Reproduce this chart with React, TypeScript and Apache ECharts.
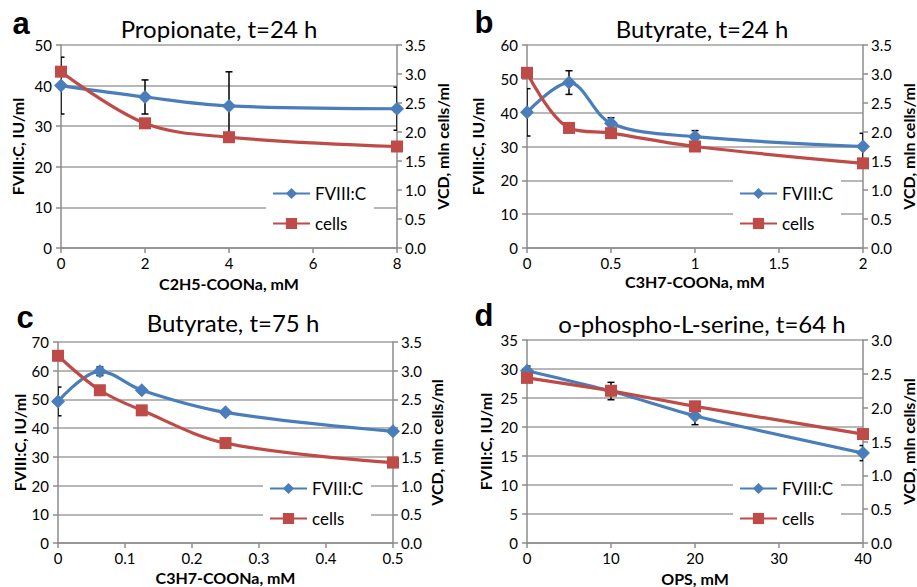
import React, { useEffect, useRef } from "react";
import * as echarts from "echarts";

// ---- Data ----
// a: Propionate, t=24 h
const aX = [0, 2, 4, 8];
const aFVIII = [40, 37.2, 35, 34.3];
const aFVIIIErr = [7, 4.2, 8.4, 5.3];
const aCells = [3.04, 2.15, 1.91, 1.75];

// b: Butyrate, t=24 h
const bX = [0, 0.25, 0.5, 1, 2];
const bFVIII = [40.1, 48.9, 36.9, 32.9, 30];
const bFVIIIErr = [7, 3.5, 1.6, 1.8, 3.9];
const bCells = [3.02, 2.07, 1.98, 1.75, 1.46];

// c: Butyrate, t=75 h
const cX = [0, 0.0625, 0.125, 0.25, 0.5];
const cFVIII = [49.3, 59.8, 53.2, 45.5, 38.9];
const cFVIIIErr = [5, 1.5, 0.8, 0.8, 0.8];
const cCells = [3.26, 2.66, 2.31, 1.74, 1.4];

// d: o-phospho-L-serine, t=64 h
const dX = [0, 10, 20, 40];
const dFVIII = [29.7, 26.2, 21.9, 15.5];
const dFVIIIErr = [0.8, 1.5, 1.5, 1.3];
const dCells = [2.44, 2.25, 2.02, 1.61];

const titles = ["Propionate, t=24 h", "Butyrate, t=24 h", "Butyrate, t=75 h", "o-phospho-L-serine, t=64 h"];
const letters = ["a", "b", "c", "d"];
const xNames = ["C2H5-COONa, mM", "C3H7-COONa, mM", "C3H7-COONa, mM", "OPS, mM"];
const leftName = "FVIII:C, IU/ml";
const rightName = "VCD, mln cells/ml";
const seriesNames = ["FVIII:C", "cells"];

// axis ranges
const xRanges = [
  [0, 8, 2],
  [0, 2, 0.5],
  [0, 0.5, 0.1],
  [0, 40, 10],
];
const leftRanges = [
  [0, 50, 10],
  [0, 60, 10],
  [0, 70, 10],
  [0, 35, 5],
];
const rightRanges = [
  [0, 3.5, 0.5],
  [0, 3.5, 0.5],
  [0, 3.5, 0.5],
  [0, 3, 0.5],
];

const panels = [
  { x: aX, f: aFVIII, fe: aFVIIIErr, c: aCells },
  { x: bX, f: bFVIII, fe: bFVIIIErr, c: bCells },
  { x: cX, f: cFVIII, fe: cFVIIIErr, c: cCells },
  { x: dX, f: dFVIII, fe: dFVIIIErr, c: dCells },
];

// ---- Layout ----
const grids = [
  { left: 61, top: 45, width: 336, height: 203 },
  { left: 527, top: 45, width: 336, height: 203 },
  { left: 58, top: 342, width: 335, height: 201 },
  { left: 527, top: 340, width: 336, height: 203 },
];
const leftGaps = [36, 42, 30, 34];
const rightGaps = [37, 37, 35, 37];
const xGaps = [27, 25, 26, 27];
const titlePos = [
  [219, 28],
  [702, 28],
  [233, 322],
  [702, 323],
];
const letterPos = [
  [21, 23],
  [484, 22],
  [25, 317],
  [484, 315],
];
const legendPos = [
  [266, 179],
  [733, 179],
  [263, 474],
  [733, 474],
];

const BLUE = "#4a7ebb";
const RED = "#be4b48";
const GRID = "#a0a0a0";
const AXIS = "#8c8c8c";
const FONT = "Lato, 'Open Sans', sans-serif";

export default function App() {
  const ref = useRef<HTMLDivElement>(null);
  useEffect(() => {
    document.body.style.margin = "0";
    if (!ref.current) return;
    const chart = echarts.init(ref.current, undefined, { renderer: "svg" });

    const xAxis: any[] = [];
    const yAxis: any[] = [];
    const series: any[] = [];
    const legend: any[] = [];
    const graphic: any[] = [];

    const nameStyle = { fontFamily: FONT, fontWeight: "bold", fontSize: 16, color: "#000" };
    const labelStyle = { fontFamily: FONT, fontSize: 15, color: "#000" };

    panels.forEach((p, i) => {
      xAxis.push({
        type: "value",
        gridIndex: i,
        min: xRanges[i][0],
        max: xRanges[i][1],
        interval: xRanges[i][2],
        name: xNames[i],
        nameLocation: "middle",
        nameGap: xGaps[i],
        nameTextStyle: nameStyle,
        axisLine: { lineStyle: { color: AXIS, width: 1.5 } },
        axisTick: { show: true, length: 5, lineStyle: { color: AXIS, width: 1.5 } },
        axisLabel: { ...labelStyle, margin: 7 },
        splitLine: { show: false },
      });
      yAxis.push({
        type: "value",
        gridIndex: i,
        position: "left",
        min: leftRanges[i][0],
        max: leftRanges[i][1],
        interval: leftRanges[i][2],
        name: leftName,
        nameLocation: "middle",
        nameRotate: 90,
        nameGap: leftGaps[i],
        nameTextStyle: nameStyle,
        axisLine: { show: true, lineStyle: { color: AXIS, width: 1.5 } },
        axisTick: { show: true, length: 5, lineStyle: { color: AXIS, width: 1.5 } },
        axisLabel: { ...labelStyle, margin: 9 },
        splitLine: { show: true, lineStyle: { color: GRID, width: 1.5 } },
      });
      yAxis.push({
        type: "value",
        gridIndex: i,
        position: "right",
        min: rightRanges[i][0],
        max: rightRanges[i][1],
        interval: rightRanges[i][2],
        name: rightName,
        nameLocation: "middle",
        nameRotate: 90,
        nameGap: rightGaps[i],
        nameTextStyle: nameStyle,
        axisLine: { show: true, lineStyle: { color: AXIS, width: 1.5 } },
        axisTick: { show: true, length: 5, lineStyle: { color: AXIS, width: 1.5 } },
        axisLabel: {
          ...labelStyle,
          margin: 8,
          formatter: (v: number) => v.toFixed(1),
        },
        splitLine: { show: false },
      });

      const smooth = i === 3 ? 0.15 : 0.35;
      series.push({
        type: "custom",
        name: "err" + i,
        xAxisIndex: i,
        yAxisIndex: 2 * i,
        clip: true,
        z: 1,
        data: p.x.map((x, k) => [x, p.f[k], p.fe[k]]),
        encode: { x: 0, y: 1 },
        renderItem: (params: any, api: any) => {
          const x = api.value(0);
          const y = api.value(1);
          const e = api.value(2);
          const t = api.coord([x, y + e]);
          const b = api.coord([x, y - e]);
          const w = 3.5;
          const st = { stroke: "#000", lineWidth: 1.5 };
          return {
            type: "group",
            children: [
              { type: "line", shape: { x1: t[0], y1: t[1], x2: b[0], y2: b[1] }, style: st },
              { type: "line", shape: { x1: t[0] - w, y1: t[1], x2: t[0] + w, y2: t[1] }, style: st },
              { type: "line", shape: { x1: b[0] - w, y1: b[1], x2: b[0] + w, y2: b[1] }, style: st },
            ],
          };
        },
      });
      series.push({
        type: "line",
        name: seriesNames[0],
        xAxisIndex: i,
        yAxisIndex: 2 * i,
        data: p.x.map((x, k) => [x, p.f[k]]),
        smooth,
        symbol: "diamond",
        symbolSize: 14,
        z: 3,
        lineStyle: { color: BLUE, width: 3.2 },
        itemStyle: { color: BLUE },
      });
      series.push({
        type: "line",
        name: seriesNames[1],
        xAxisIndex: i,
        yAxisIndex: 2 * i + 1,
        data: p.x.map((x, k) => [x, p.c[k]]),
        smooth,
        symbol: "rect",
        symbolSize: 12,
        z: 4,
        lineStyle: { color: RED, width: 3.2 },
        itemStyle: { color: RED },
      });

      legend.push({
        data: seriesNames,
        orient: "vertical",
        left: legendPos[i][0],
        top: legendPos[i][1],
        itemWidth: 37,
        itemHeight: 14,
        itemGap: 13,
        backgroundColor: "#fff",
        padding: [6, 8, 6, 6],
        selectedMode: false,
        textStyle: { fontFamily: FONT, fontSize: 17, color: "#000" },
      });

      graphic.push({
        type: "text",
        x: titlePos[i][0],
        y: titlePos[i][1],
        style: {
          text: titles[i],
          fontFamily: FONT,
          fontSize: 24,
          fill: "#000",
          align: "center",
          verticalAlign: "middle",
        },
      });
      graphic.push({
        type: "text",
        x: letterPos[i][0],
        y: letterPos[i][1],
        style: {
          text: letters[i],
          fontFamily: "'Liberation Sans', Arial, sans-serif",
          fontWeight: "bold",
          fontSize: 31,
          fill: "#000",
          align: "center",
          verticalAlign: "middle",
        },
      });
    });

    chart.setOption({
      animation: false,
      backgroundColor: "#fff",
      grid: grids.map((g) => ({ ...g, containLabel: false })),
      xAxis,
      yAxis,
      series,
      legend,
      graphic,
    });
    return () => chart.dispose();
  }, []);
  return <div ref={ref} style={{ width: 917, height: 587 }} />;
}
